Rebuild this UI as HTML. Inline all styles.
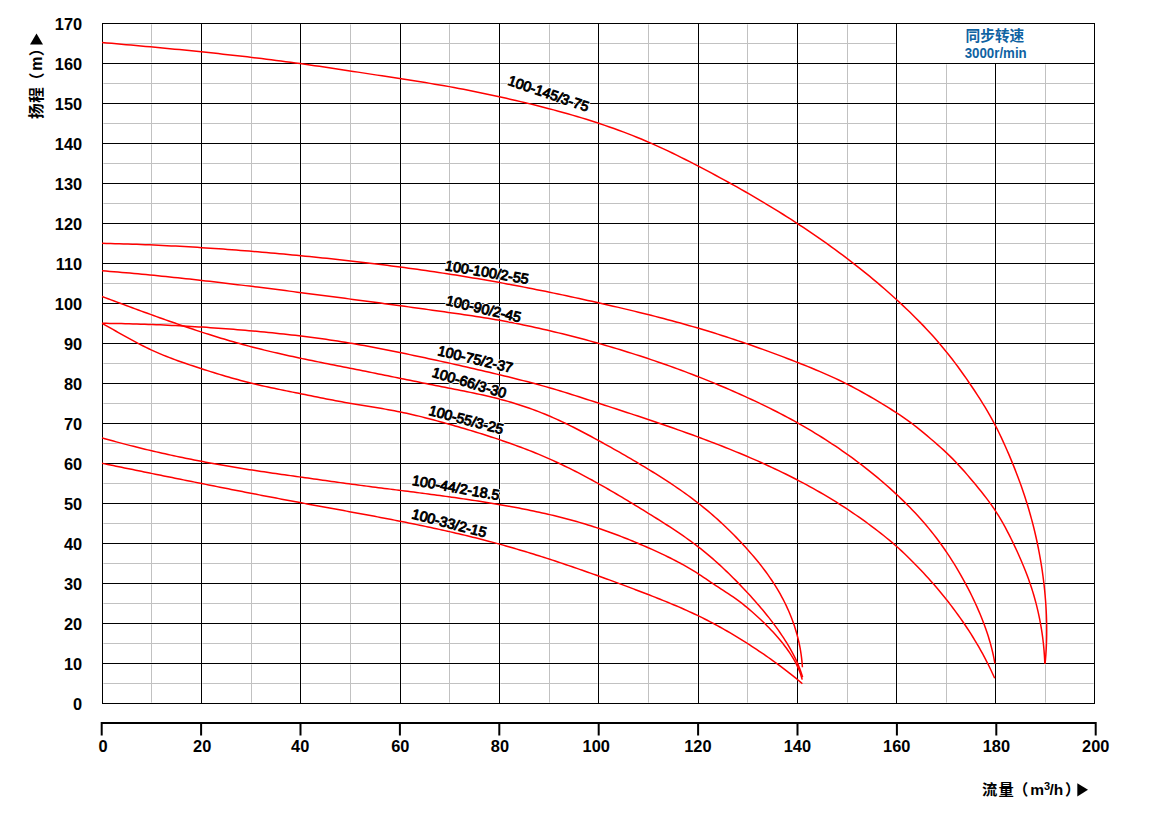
<!DOCTYPE html><html><head><meta charset="utf-8"><title>Pump curves</title>
<style>html,body{margin:0;padding:0;background:#fff;}body{width:1155px;height:816px;overflow:hidden;}svg{display:block;}</style></head><body>
<svg width="1155" height="816" viewBox="0 0 1155 816">
<rect width="1155" height="816" fill="#fff"/>
<g fill="#c1c1c1" shape-rendering="crispEdges">
<rect x="151" y="23" width="1" height="681"/>
<rect x="251" y="23" width="1" height="681"/>
<rect x="350" y="23" width="1" height="681"/>
<rect x="449" y="23" width="1" height="681"/>
<rect x="549" y="23" width="1" height="681"/>
<rect x="648" y="23" width="1" height="681"/>
<rect x="747" y="23" width="1" height="681"/>
<rect x="847" y="23" width="1" height="681"/>
<rect x="946" y="23" width="1" height="681"/>
<rect x="1045" y="23" width="1" height="681"/>
<rect x="102" y="43" width="993" height="1"/>
<rect x="102" y="83" width="993" height="1"/>
<rect x="102" y="123" width="993" height="1"/>
<rect x="102" y="163" width="993" height="1"/>
<rect x="102" y="203" width="993" height="1"/>
<rect x="102" y="243" width="993" height="1"/>
<rect x="102" y="283" width="993" height="1"/>
<rect x="102" y="323" width="993" height="1"/>
<rect x="102" y="363" width="993" height="1"/>
<rect x="102" y="403" width="993" height="1"/>
<rect x="102" y="443" width="993" height="1"/>
<rect x="102" y="483" width="993" height="1"/>
<rect x="102" y="523" width="993" height="1"/>
<rect x="102" y="563" width="993" height="1"/>
<rect x="102" y="603" width="993" height="1"/>
<rect x="102" y="643" width="993" height="1"/>
<rect x="102" y="683" width="993" height="1"/>
</g>
<g fill="#fff" fill-opacity="0.4" shape-rendering="crispEdges">
<rect x="101" y="23" width="3" height="681"/>
<rect x="200" y="23" width="3" height="681"/>
<rect x="299" y="23" width="3" height="681"/>
<rect x="399" y="23" width="3" height="681"/>
<rect x="498" y="23" width="3" height="681"/>
<rect x="597" y="23" width="3" height="681"/>
<rect x="697" y="23" width="3" height="681"/>
<rect x="796" y="23" width="3" height="681"/>
<rect x="895" y="23" width="3" height="681"/>
<rect x="994" y="23" width="3" height="681"/>
<rect x="1093" y="23" width="3" height="681"/>
<rect x="102" y="22" width="993" height="3"/>
<rect x="102" y="62" width="993" height="3"/>
<rect x="102" y="102" width="993" height="3"/>
<rect x="102" y="142" width="993" height="3"/>
<rect x="102" y="182" width="993" height="3"/>
<rect x="102" y="222" width="993" height="3"/>
<rect x="102" y="262" width="993" height="3"/>
<rect x="102" y="302" width="993" height="3"/>
<rect x="102" y="342" width="993" height="3"/>
<rect x="102" y="382" width="993" height="3"/>
<rect x="102" y="422" width="993" height="3"/>
<rect x="102" y="462" width="993" height="3"/>
<rect x="102" y="502" width="993" height="3"/>
<rect x="102" y="542" width="993" height="3"/>
<rect x="102" y="582" width="993" height="3"/>
<rect x="102" y="622" width="993" height="3"/>
<rect x="102" y="662" width="993" height="3"/>
<rect x="102" y="702" width="993" height="3"/>
</g>
<g fill="none" stroke="#fff" stroke-opacity="0.4" stroke-width="2.8">
<path d="M102.00 42.50L106.84 42.92L111.69 43.35L116.53 43.78L121.37 44.21L126.22 44.64L131.06 45.08L135.90 45.51L140.75 45.96L145.59 46.40L150.43 46.85L155.27 47.30L160.11 47.76L164.96 48.22L169.80 48.68L174.64 49.15L179.48 49.62L184.32 50.10L189.16 50.58L194.00 51.07L198.83 51.57L203.67 52.07L208.51 52.57L213.34 53.08L218.18 53.60L223.01 54.13L227.85 54.66L232.68 55.20L237.51 55.75L242.35 56.30L247.18 56.86L252.00 57.43L256.83 58.01L261.66 58.59L266.49 59.19L271.31 59.79L276.14 60.40L280.96 61.02L285.78 61.65L290.60 62.29L295.42 62.94L300.24 63.60L305.05 64.27L309.87 64.95L314.68 65.64L319.49 66.33L324.30 67.04L329.12 67.75L333.92 68.46L338.73 69.19L343.54 69.92L348.35 70.65L353.16 71.39L357.96 72.13L362.77 72.87L367.57 73.62L372.38 74.37L377.19 75.12L381.99 75.86L386.80 76.61L391.60 77.36L396.41 78.11L401.21 78.86L406.02 79.60L410.83 80.34L415.63 81.09L420.44 81.84L425.24 82.60L430.04 83.38L434.84 84.16L439.63 84.97L444.43 85.79L449.21 86.63L454.00 87.50L458.78 88.39L463.55 89.31L468.32 90.24L473.09 91.20L477.86 92.17L482.62 93.17L487.37 94.17L492.13 95.20L496.88 96.24L501.63 97.29L506.38 98.35L511.12 99.43L515.86 100.52L520.60 101.63L525.33 102.75L530.06 103.89L534.78 105.05L539.50 106.23L544.21 107.43L548.92 108.65L553.62 109.89L558.31 111.16L563.00 112.45L567.68 113.77L572.36 115.11L577.02 116.48L581.68 117.88L586.33 119.31L590.97 120.77L595.60 122.26L600.22 123.78L604.83 125.34L609.43 126.93L614.02 128.55L618.60 130.21L623.16 131.90L627.71 133.64L632.25 135.40L636.76 137.21L641.26 139.06L645.75 140.94L650.21 142.87L654.65 144.83L659.08 146.84L663.49 148.87L667.88 150.94L672.26 153.04L676.63 155.17L680.99 157.33L685.33 159.50L689.66 161.70L693.99 163.92L698.31 166.16L702.62 168.41L706.92 170.67L711.22 172.95L715.51 175.24L719.79 177.55L724.07 179.88L728.34 182.22L732.59 184.58L736.84 186.96L741.08 189.35L745.31 191.76L749.53 194.19L753.74 196.63L757.94 199.09L762.13 201.57L766.30 204.07L770.47 206.59L774.62 209.13L778.76 211.68L782.89 214.26L787.00 216.86L791.11 219.47L795.19 222.11L799.27 224.77L803.33 227.45L807.37 230.15L811.40 232.87L815.41 235.61L819.41 238.37L823.39 241.16L827.36 243.97L831.31 246.80L835.24 249.66L839.16 252.54L843.05 255.44L846.93 258.37L850.79 261.32L854.63 264.30L858.46 267.30L862.26 270.32L866.04 273.37L869.81 276.45L873.55 279.55L877.27 282.68L880.97 285.83L884.65 289.02L888.31 292.22L891.95 295.46L895.56 298.72L899.15 302.01L902.72 305.33L906.26 308.68L909.77 312.06L913.25 315.47L916.71 318.91L920.12 322.38L923.51 325.89L926.85 329.43L930.16 333.00L933.42 336.61L936.65 340.26L939.83 343.94L942.96 347.66L946.05 351.42L949.08 355.22L952.07 359.05L955.01 362.92L957.92 366.82L960.78 370.75L963.61 374.71L966.41 378.69L969.17 382.70L971.91 386.72L974.62 390.76L977.29 394.83L979.93 398.92L982.52 403.04L985.06 407.18L987.55 411.36L989.97 415.57L992.34 419.81L994.63 424.09L996.86 428.41L999.01 432.76L1001.11 437.15L1003.16 441.56L1005.16 445.99L1007.13 450.44L1009.05 454.90L1010.93 459.39L1012.78 463.88L1014.59 468.40L1016.36 472.93L1018.09 477.47L1019.77 482.03L1021.41 486.61L1023.01 491.21L1024.55 495.82L1026.05 500.45L1027.50 505.09L1028.90 509.75L1030.25 514.42L1031.54 519.11L1032.79 523.81L1033.98 528.52L1035.11 533.25L1036.20 537.98L1037.23 542.73L1038.21 547.49L1039.14 552.27L1040.01 557.05L1040.83 561.84L1041.61 566.64L1042.33 571.45L1043.00 576.27L1043.61 581.10L1044.18 585.94L1044.68 590.78L1045.14 595.62L1045.53 600.47L1045.88 605.32L1046.16 610.17L1046.38 615.03L1046.55 619.89L1046.65 624.74L1046.69 629.60L1046.67 634.46L1046.58 639.32L1046.42 644.18L1046.20 649.04L1045.90 653.89L1045.54 658.75L1045.10 663.60"/>
<path d="M102.00 243.30L106.33 243.40L110.67 243.51L115.00 243.63L119.34 243.75L123.67 243.89L128.00 244.03L132.33 244.18L136.67 244.34L141.00 244.50L145.33 244.68L149.66 244.86L153.99 245.05L158.32 245.25L162.65 245.45L166.98 245.67L171.31 245.89L175.63 246.12L179.96 246.35L184.29 246.60L188.62 246.85L192.94 247.10L197.27 247.37L201.59 247.64L205.92 247.92L210.24 248.21L214.57 248.50L218.89 248.80L223.21 249.11L227.54 249.42L231.86 249.74L236.18 250.07L240.50 250.40L244.82 250.74L249.14 251.08L253.46 251.44L257.78 251.80L262.10 252.16L266.42 252.53L270.74 252.91L275.06 253.29L279.37 253.68L283.69 254.07L288.01 254.47L292.32 254.88L296.64 255.29L300.95 255.71L305.27 256.13L309.58 256.56L313.89 256.99L318.21 257.43L322.52 257.88L326.83 258.33L331.14 258.79L335.45 259.25L339.76 259.72L344.07 260.20L348.38 260.68L352.69 261.17L356.99 261.67L361.30 262.17L365.60 262.68L369.91 263.20L374.21 263.72L378.51 264.25L382.81 264.79L387.11 265.34L391.41 265.89L395.71 266.45L400.01 267.02L404.30 267.59L408.60 268.17L412.89 268.76L417.19 269.36L421.48 269.97L425.77 270.58L430.06 271.20L434.35 271.83L438.63 272.47L442.92 273.12L447.20 273.78L451.48 274.44L455.76 275.11L460.04 275.80L464.32 276.49L468.60 277.19L472.87 277.89L477.15 278.61L481.42 279.34L485.69 280.08L489.96 280.82L494.23 281.58L498.49 282.34L502.76 283.12L507.02 283.90L511.28 284.69L515.54 285.50L519.80 286.31L524.05 287.13L528.31 287.96L532.56 288.80L536.81 289.64L541.06 290.50L545.31 291.36L549.56 292.23L553.80 293.11L558.05 294.00L562.29 294.89L566.53 295.79L570.77 296.70L575.01 297.61L579.24 298.54L583.48 299.47L587.71 300.40L591.95 301.34L596.18 302.29L600.41 303.25L604.63 304.21L608.86 305.17L613.09 306.15L617.31 307.13L621.53 308.12L625.75 309.12L629.97 310.12L634.18 311.14L638.39 312.17L642.60 313.20L646.81 314.25L651.01 315.31L655.21 316.38L659.41 317.46L663.60 318.56L667.79 319.67L671.97 320.79L676.16 321.92L680.33 323.07L684.51 324.24L688.68 325.42L692.84 326.61L697.00 327.82L701.16 329.05L705.31 330.30L709.45 331.56L713.59 332.84L717.73 334.13L721.86 335.44L725.98 336.77L730.10 338.11L734.22 339.47L738.33 340.84L742.44 342.23L746.54 343.63L750.63 345.05L754.73 346.49L758.81 347.93L762.89 349.40L766.97 350.87L771.04 352.36L775.11 353.87L779.17 355.39L783.23 356.92L787.29 358.47L791.33 360.02L795.38 361.60L799.42 363.18L803.45 364.78L807.47 366.40L811.49 368.03L815.50 369.69L819.50 371.37L823.48 373.08L827.45 374.82L831.40 376.59L835.34 378.40L839.26 380.25L843.16 382.14L847.04 384.07L850.89 386.04L854.73 388.06L858.54 390.12L862.33 392.22L866.11 394.35L869.87 396.51L873.61 398.70L877.34 400.92L881.06 403.15L884.76 405.41L888.45 407.69L892.12 410.00L895.77 412.34L899.39 414.72L902.97 417.15L906.52 419.63L910.04 422.16L913.51 424.76L916.94 427.41L920.33 430.11L923.69 432.86L927.01 435.64L930.32 438.45L933.61 441.29L936.88 444.14L940.13 447.00L943.36 449.90L946.53 452.84L949.65 455.84L952.71 458.90L955.72 462.01L958.68 465.17L961.60 468.37L964.49 471.61L967.34 474.88L970.16 478.17L972.95 481.49L975.73 484.83L978.49 488.18L981.22 491.56L983.91 494.96L986.56 498.39L989.16 501.86L991.69 505.37L994.15 508.93L996.53 512.54L998.83 516.20L1001.05 519.91L1003.20 523.67L1005.29 527.47L1007.32 531.30L1009.30 535.16L1011.23 539.04L1013.13 542.94L1014.99 546.86L1016.82 550.80L1018.62 554.74L1020.37 558.71L1022.09 562.69L1023.75 566.69L1025.37 570.71L1026.93 574.76L1028.43 578.82L1029.87 582.90L1031.25 587.01L1032.57 591.14L1033.82 595.29L1035.00 599.46L1036.12 603.65L1037.17 607.85L1038.16 612.07L1039.08 616.31L1039.94 620.56L1040.73 624.83L1041.45 629.10L1042.11 633.39L1042.69 637.69L1043.21 641.99L1043.67 646.30L1044.05 650.62L1044.37 654.94L1044.62 659.27L1044.80 663.60"/>
<path d="M102.00 270.80L106.00 271.11L109.99 271.43L113.99 271.75L117.98 272.08L121.98 272.42L125.97 272.77L129.97 273.12L133.96 273.48L137.95 273.85L141.94 274.22L145.93 274.59L149.92 274.98L153.91 275.37L157.90 275.76L161.89 276.16L165.88 276.57L169.87 276.98L173.86 277.39L177.84 277.82L181.83 278.24L185.82 278.67L189.80 279.11L193.79 279.55L197.77 279.99L201.75 280.44L205.74 280.89L209.72 281.35L213.70 281.81L217.69 282.27L221.67 282.74L225.65 283.21L229.63 283.69L233.61 284.17L237.59 284.65L241.57 285.13L245.55 285.62L249.53 286.11L253.51 286.60L257.49 287.09L261.47 287.59L265.45 288.09L269.43 288.59L273.41 289.09L277.38 289.59L281.36 290.10L285.34 290.61L289.32 291.12L293.29 291.63L297.27 292.14L301.24 292.65L305.22 293.16L309.20 293.68L313.17 294.19L317.15 294.71L321.12 295.22L325.10 295.74L329.07 296.26L333.05 296.78L337.02 297.30L341.00 297.82L344.97 298.34L348.94 298.87L352.92 299.39L356.89 299.92L360.87 300.45L364.84 300.98L368.81 301.51L372.79 302.04L376.76 302.57L380.73 303.10L384.70 303.64L388.68 304.18L392.65 304.72L396.62 305.25L400.59 305.80L404.57 306.34L408.54 306.88L412.51 307.43L416.48 307.98L420.46 308.52L424.43 309.07L428.40 309.63L432.37 310.18L436.34 310.74L440.31 311.29L444.29 311.85L448.26 312.41L452.23 312.97L456.20 313.54L460.17 314.11L464.14 314.68L468.11 315.27L472.08 315.86L476.04 316.46L480.00 317.07L483.96 317.70L487.92 318.34L491.88 318.99L495.83 319.66L499.78 320.36L503.72 321.07L507.66 321.80L511.59 322.55L515.53 323.32L519.45 324.10L523.38 324.91L527.30 325.73L531.22 326.57L535.13 327.42L539.04 328.29L542.95 329.18L546.86 330.07L550.76 330.99L554.66 331.92L558.56 332.86L562.45 333.81L566.35 334.78L570.23 335.77L574.12 336.76L578.00 337.77L581.88 338.80L585.75 339.84L589.63 340.89L593.49 341.95L597.36 343.03L601.22 344.13L605.07 345.23L608.93 346.35L612.77 347.49L616.62 348.64L620.46 349.80L624.29 350.98L628.12 352.17L631.95 353.37L635.77 354.59L639.59 355.82L643.40 357.06L647.21 358.32L651.01 359.59L654.81 360.87L658.60 362.17L662.39 363.49L666.17 364.81L669.94 366.16L673.71 367.51L677.48 368.88L681.24 370.27L684.99 371.66L688.74 373.08L692.49 374.51L696.22 375.95L699.95 377.41L703.68 378.88L707.40 380.37L711.11 381.88L714.82 383.40L718.52 384.94L722.22 386.49L725.91 388.06L729.59 389.64L733.26 391.24L736.93 392.86L740.60 394.49L744.25 396.14L747.91 397.81L751.55 399.49L755.19 401.19L758.81 402.91L762.43 404.64L766.05 406.40L769.65 408.17L773.24 409.97L776.82 411.79L780.39 413.62L783.95 415.48L787.49 417.36L791.03 419.27L794.54 421.19L798.05 423.14L801.54 425.12L805.02 427.12L808.48 429.15L811.92 431.19L815.35 433.27L818.77 435.37L822.17 437.49L825.55 439.64L828.91 441.81L832.26 444.01L835.60 446.24L838.91 448.48L842.21 450.76L845.49 453.06L848.75 455.38L852.00 457.73L855.23 460.11L858.43 462.51L861.62 464.93L864.79 467.38L867.95 469.86L871.08 472.36L874.19 474.89L877.28 477.45L880.36 480.03L883.41 482.64L886.44 485.27L889.45 487.93L892.44 490.61L895.40 493.33L898.33 496.07L901.24 498.84L904.12 501.63L906.97 504.46L909.79 507.31L912.57 510.19L915.33 513.10L918.05 516.05L920.74 519.02L923.39 522.02L926.00 525.06L928.58 528.12L931.11 531.22L933.61 534.35L936.06 537.52L938.47 540.72L940.84 543.95L943.16 547.21L945.44 550.51L947.69 553.83L949.89 557.18L952.06 560.56L954.19 563.95L956.29 567.38L958.34 570.82L960.36 574.29L962.33 577.78L964.27 581.29L966.17 584.82L968.04 588.37L969.86 591.95L971.64 595.54L973.38 599.15L975.09 602.78L976.75 606.43L978.37 610.10L979.95 613.79L981.47 617.50L982.95 621.22L984.37 624.97L985.73 628.74L987.03 632.52L988.27 636.33L989.44 640.16L990.54 644.01L991.57 647.88L992.53 651.78L993.40 655.70L994.19 659.64L994.90 663.60"/>
<path d="M102.00 323.30L105.87 323.35L109.75 323.41L113.62 323.47L117.50 323.54L121.37 323.62L125.24 323.71L129.12 323.81L132.99 323.91L136.86 324.02L140.74 324.14L144.61 324.27L148.48 324.41L152.35 324.55L156.22 324.70L160.09 324.86L163.97 325.03L167.84 325.20L171.71 325.38L175.58 325.57L179.45 325.77L183.31 325.98L187.18 326.19L191.05 326.41L194.92 326.64L198.79 326.88L202.65 327.12L206.52 327.37L210.38 327.63L214.25 327.90L218.12 328.17L221.98 328.46L225.84 328.75L229.71 329.05L233.57 329.35L237.43 329.66L241.29 329.99L245.15 330.31L249.01 330.65L252.87 330.99L256.73 331.35L260.59 331.71L264.45 332.07L268.31 332.45L272.16 332.84L276.02 333.23L279.87 333.64L283.72 334.05L287.58 334.48L291.43 334.91L295.27 335.36L299.12 335.81L302.97 336.28L306.81 336.76L310.65 337.26L314.50 337.76L318.33 338.28L322.17 338.81L326.01 339.36L329.84 339.92L333.67 340.49L337.50 341.07L341.33 341.68L345.15 342.29L348.97 342.92L352.79 343.57L356.61 344.23L360.43 344.91L364.24 345.60L368.05 346.30L371.86 347.02L375.67 347.74L379.47 348.48L383.28 349.22L387.08 349.98L390.88 350.74L394.68 351.51L398.47 352.28L402.27 353.06L406.07 353.84L409.86 354.63L413.65 355.43L417.44 356.23L421.23 357.03L425.02 357.84L428.81 358.65L432.60 359.47L436.38 360.29L440.17 361.11L443.95 361.95L447.73 362.78L451.51 363.63L455.29 364.47L459.07 365.32L462.85 366.18L466.63 367.04L470.40 367.91L474.18 368.78L477.95 369.66L481.72 370.54L485.49 371.42L489.27 372.32L493.04 373.21L496.80 374.11L500.57 375.02L504.34 375.93L508.10 376.85L511.87 377.78L515.63 378.71L519.39 379.66L523.14 380.62L526.90 381.58L530.65 382.57L534.39 383.56L538.13 384.57L541.87 385.60L545.60 386.65L549.32 387.71L553.04 388.79L556.75 389.89L560.46 391.01L564.16 392.14L567.86 393.29L571.56 394.45L575.25 395.62L578.94 396.80L582.63 397.98L586.31 399.18L590.00 400.37L593.68 401.57L597.36 402.78L601.05 403.98L604.73 405.18L608.41 406.39L612.10 407.59L615.78 408.79L619.46 410.00L623.15 411.21L626.83 412.42L630.51 413.64L634.19 414.85L637.87 416.07L641.54 417.30L645.22 418.53L648.89 419.76L652.57 421.00L656.24 422.25L659.90 423.50L663.57 424.75L667.23 426.02L670.89 427.29L674.55 428.57L678.21 429.85L681.86 431.15L685.51 432.45L689.15 433.76L692.79 435.08L696.43 436.41L700.06 437.76L703.69 439.11L707.32 440.47L710.94 441.85L714.56 443.23L718.17 444.63L721.78 446.04L725.38 447.46L728.98 448.90L732.57 450.35L736.15 451.82L739.73 453.30L743.31 454.79L746.88 456.30L750.44 457.83L754.00 459.37L757.55 460.93L761.09 462.50L764.62 464.09L768.15 465.70L771.67 467.33L775.18 468.98L778.68 470.64L782.17 472.33L785.66 474.03L789.13 475.75L792.59 477.50L796.04 479.26L799.48 481.05L802.91 482.85L806.32 484.68L809.73 486.54L813.12 488.41L816.50 490.31L819.86 492.23L823.21 494.17L826.55 496.14L829.87 498.14L833.17 500.16L836.47 502.20L839.74 504.27L843.00 506.37L846.25 508.49L849.47 510.64L852.69 512.81L855.88 515.00L859.06 517.22L862.23 519.46L865.38 521.72L868.52 524.00L871.64 526.31L874.74 528.64L877.82 530.99L880.88 533.37L883.91 535.78L886.92 538.22L889.90 540.69L892.85 543.19L895.77 545.73L898.66 548.31L901.51 550.92L904.33 553.56L907.13 556.24L909.89 558.94L912.64 561.68L915.36 564.43L918.05 567.21L920.73 570.02L923.38 572.84L926.02 575.69L928.62 578.56L931.21 581.45L933.77 584.36L936.31 587.30L938.82 590.26L941.30 593.24L943.76 596.24L946.19 599.26L948.59 602.31L950.96 605.38L953.31 608.47L955.62 611.58L957.91 614.71L960.16 617.87L962.38 621.04L964.57 624.24L966.73 627.46L968.85 630.70L970.94 633.96L972.99 637.25L975.01 640.55L976.99 643.88L978.94 647.22L980.85 650.59L982.72 653.98L984.55 657.39L986.34 660.83L988.10 664.28L989.81 667.75L991.48 671.25L993.11 674.76L994.70 678.30"/>
<path d="M102.00 296.50L105.02 297.62L108.04 298.75L111.07 299.87L114.09 301.00L117.12 302.12L120.14 303.25L123.17 304.37L126.20 305.49L129.23 306.62L132.26 307.74L135.29 308.85L138.33 309.97L141.36 311.08L144.40 312.19L147.43 313.30L150.47 314.41L153.51 315.51L156.56 316.60L159.60 317.69L162.65 318.78L165.69 319.86L168.74 320.94L171.80 322.01L174.85 323.08L177.90 324.14L180.96 325.19L184.02 326.24L187.08 327.28L190.15 328.31L193.22 329.33L196.28 330.35L199.36 331.36L202.43 332.36L205.51 333.35L208.59 334.33L211.67 335.30L214.75 336.27L217.84 337.22L220.93 338.16L224.03 339.09L227.12 340.01L230.22 340.92L233.32 341.82L236.43 342.71L239.54 343.58L242.65 344.44L245.77 345.29L248.89 346.13L252.01 346.95L255.14 347.76L258.26 348.56L261.40 349.34L264.53 350.11L267.67 350.87L270.81 351.62L273.96 352.36L277.10 353.09L280.25 353.81L283.40 354.52L286.56 355.22L289.71 355.91L292.87 356.60L296.03 357.28L299.19 357.95L302.35 358.61L305.52 359.27L308.68 359.93L311.85 360.58L315.02 361.22L318.18 361.87L321.35 362.50L324.52 363.14L327.69 363.77L330.86 364.40L334.03 365.03L337.20 365.66L340.37 366.29L343.54 366.92L346.71 367.55L349.88 368.18L353.05 368.81L356.22 369.45L359.39 370.08L362.55 370.72L365.72 371.35L368.89 371.99L372.05 372.63L375.22 373.27L378.38 373.91L381.55 374.55L384.71 375.19L387.88 375.84L391.04 376.48L394.21 377.12L397.37 377.76L400.54 378.41L403.71 379.05L406.87 379.69L410.04 380.33L413.20 380.97L416.37 381.61L419.54 382.25L422.70 382.89L425.87 383.53L429.04 384.16L432.21 384.80L435.38 385.43L438.55 386.07L441.72 386.70L444.89 387.33L448.06 387.95L451.24 388.58L454.41 389.20L457.59 389.83L460.76 390.46L463.93 391.09L467.10 391.73L470.27 392.38L473.44 393.03L476.61 393.70L479.77 394.38L482.92 395.08L486.08 395.79L489.23 396.52L492.37 397.28L495.51 398.05L498.64 398.85L501.76 399.67L504.88 400.52L507.99 401.40L511.09 402.30L514.18 403.23L517.27 404.19L520.34 405.18L523.41 406.19L526.47 407.23L529.51 408.29L532.55 409.39L535.58 410.51L538.60 411.66L541.60 412.83L544.60 414.04L547.58 415.27L550.56 416.54L553.52 417.83L556.46 419.14L559.40 420.48L562.33 421.85L565.25 423.24L568.16 424.65L571.06 426.07L573.95 427.52L576.83 428.99L579.71 430.47L582.58 431.96L585.44 433.47L588.30 434.99L591.15 436.52L594.00 438.06L596.84 439.61L599.68 441.16L602.52 442.72L605.35 444.29L608.18 445.86L611.00 447.44L613.82 449.03L616.63 450.62L619.45 452.22L622.25 453.82L625.05 455.44L627.85 457.06L630.65 458.69L633.43 460.32L636.22 461.97L639.00 463.62L641.77 465.28L644.54 466.95L647.30 468.62L650.06 470.31L652.81 472.01L655.56 473.71L658.30 475.43L661.03 477.16L663.75 478.90L666.46 480.65L669.17 482.42L671.86 484.20L674.54 486.00L677.21 487.82L679.87 489.65L682.51 491.50L685.15 493.37L687.76 495.26L690.37 497.16L692.95 499.10L695.52 501.05L698.08 503.02L700.61 505.02L703.13 507.04L705.63 509.09L708.11 511.15L710.58 513.24L713.02 515.36L715.45 517.49L717.86 519.65L720.25 521.82L722.63 524.02L724.98 526.24L727.32 528.48L729.64 530.74L731.94 533.02L734.22 535.31L736.48 537.63L738.73 539.97L740.95 542.32L743.16 544.70L745.35 547.09L747.52 549.50L749.67 551.92L751.80 554.37L753.90 556.83L755.98 559.32L758.04 561.82L760.07 564.34L762.07 566.89L764.04 569.46L765.97 572.05L767.87 574.67L769.73 577.31L771.56 579.98L773.34 582.67L775.08 585.40L776.78 588.14L778.43 590.92L780.04 593.72L781.60 596.55L783.12 599.40L784.58 602.27L786.00 605.17L787.36 608.09L788.68 611.04L789.94 614.01L791.15 617.00L792.30 620.01L793.40 623.04L794.44 626.09L795.42 629.16L796.35 632.25L797.22 635.35L798.02 638.48L798.77 641.62L799.45 644.78L800.07 647.95L800.62 651.14L801.11 654.34L801.54 657.56L801.89 660.80L802.18 664.04L802.40 667.30"/>
<path d="M102.00 323.30L104.74 324.82L107.47 326.35L110.20 327.89L112.93 329.44L115.66 330.98L118.40 332.53L121.13 334.07L123.86 335.61L126.60 337.14L129.35 338.66L132.10 340.16L134.86 341.65L137.63 343.12L140.41 344.57L143.20 345.99L146.00 347.39L148.82 348.75L151.65 350.08L154.50 351.38L157.36 352.65L160.24 353.88L163.13 355.09L166.03 356.26L168.95 357.41L171.88 358.53L174.81 359.63L177.76 360.71L180.71 361.77L183.67 362.81L186.64 363.83L189.62 364.84L192.60 365.83L195.58 366.82L198.57 367.79L201.56 368.75L204.55 369.71L207.54 370.66L210.54 371.60L213.53 372.54L216.53 373.46L219.54 374.37L222.54 375.27L225.55 376.16L228.56 377.04L231.58 377.91L234.59 378.76L237.62 379.59L240.64 380.41L243.67 381.22L246.70 382.00L249.74 382.77L252.78 383.52L255.83 384.26L258.88 384.97L261.93 385.68L264.99 386.36L268.05 387.04L271.12 387.70L274.18 388.35L277.25 389.00L280.32 389.63L283.39 390.26L286.46 390.89L289.54 391.51L292.61 392.13L295.69 392.74L298.76 393.36L301.83 393.98L304.91 394.60L307.98 395.22L311.05 395.84L314.13 396.46L317.20 397.07L320.28 397.69L323.35 398.30L326.43 398.91L329.51 399.51L332.58 400.10L335.67 400.69L338.75 401.27L341.83 401.84L344.92 402.40L348.01 402.95L351.10 403.49L354.19 404.02L357.29 404.54L360.38 405.05L363.48 405.55L366.58 406.06L369.68 406.56L372.78 407.06L375.87 407.57L378.97 408.08L382.06 408.60L385.15 409.13L388.24 409.67L391.32 410.23L394.40 410.80L397.48 411.40L400.55 412.01L403.61 412.65L406.67 413.30L409.73 413.98L412.78 414.68L415.82 415.40L418.86 416.14L421.90 416.89L424.93 417.66L427.96 418.44L430.99 419.23L434.02 420.04L437.04 420.86L440.06 421.69L443.08 422.53L446.10 423.37L449.12 424.22L452.14 425.08L455.16 425.95L458.17 426.82L461.19 427.70L464.20 428.58L467.22 429.48L470.23 430.38L473.24 431.29L476.24 432.20L479.24 433.13L482.25 434.07L485.24 435.01L488.24 435.97L491.23 436.94L494.21 437.91L497.20 438.90L500.17 439.91L503.15 440.92L506.11 441.95L509.08 442.99L512.04 444.04L514.99 445.10L517.93 446.18L520.87 447.28L523.81 448.39L526.73 449.52L529.65 450.66L532.57 451.81L535.47 452.99L538.37 454.18L541.26 455.39L544.14 456.61L547.01 457.85L549.88 459.12L552.73 460.40L555.58 461.70L558.42 463.01L561.25 464.35L564.07 465.70L566.89 467.06L569.69 468.45L572.49 469.85L575.29 471.26L578.07 472.69L580.85 474.13L583.62 475.59L586.39 477.06L589.15 478.54L591.90 480.03L594.65 481.54L597.39 483.06L600.13 484.59L602.86 486.13L605.59 487.68L608.31 489.24L611.02 490.81L613.74 492.39L616.45 493.98L619.15 495.57L621.85 497.17L624.55 498.78L627.24 500.40L629.93 502.02L632.62 503.65L635.31 505.29L637.99 506.92L640.67 508.57L643.35 510.22L646.03 511.87L648.70 513.52L651.37 515.18L654.05 516.84L656.71 518.51L659.38 520.18L662.03 521.86L664.68 523.55L667.33 525.25L669.96 526.95L672.59 528.67L675.21 530.41L677.81 532.16L680.41 533.92L682.99 535.70L685.55 537.49L688.11 539.31L690.64 541.15L693.16 543.00L695.67 544.88L698.15 546.78L700.61 548.71L703.06 550.66L705.48 552.63L707.89 554.62L710.28 556.64L712.65 558.68L715.00 560.74L717.34 562.82L719.66 564.92L721.96 567.04L724.25 569.18L726.52 571.34L728.78 573.51L731.02 575.70L733.24 577.91L735.46 580.14L737.65 582.38L739.84 584.63L742.01 586.90L744.17 589.19L746.31 591.48L748.44 593.79L750.56 596.11L752.67 598.45L754.76 600.79L756.84 603.15L758.90 605.53L760.95 607.92L762.97 610.32L764.97 612.74L766.95 615.18L768.91 617.63L770.84 620.10L772.75 622.59L774.63 625.10L776.48 627.63L778.31 630.17L780.10 632.74L781.86 635.33L783.59 637.94L785.28 640.57L786.93 643.22L788.55 645.90L790.13 648.60L791.66 651.33L793.14 654.08L794.57 656.86L795.93 659.68L797.23 662.53L798.47 665.41L799.62 668.32L800.70 671.28L801.69 674.27L802.60 677.30"/>
<path d="M102.00 437.90L104.85 438.71L107.70 439.51L110.55 440.30L113.40 441.08L116.26 441.86L119.11 442.63L121.97 443.39L124.84 444.14L127.70 444.88L130.57 445.62L133.44 446.34L136.31 447.06L139.18 447.78L142.05 448.48L144.93 449.18L147.81 449.87L150.69 450.55L153.57 451.22L156.45 451.89L159.34 452.55L162.22 453.20L165.11 453.85L168.00 454.49L170.89 455.12L173.79 455.74L176.68 456.36L179.58 456.97L182.48 457.57L185.38 458.17L188.28 458.76L191.18 459.34L194.08 459.91L196.99 460.48L199.89 461.05L202.80 461.60L205.71 462.15L208.62 462.69L211.53 463.23L214.44 463.76L217.36 464.29L220.27 464.80L223.18 465.31L226.10 465.82L229.02 466.32L231.94 466.81L234.86 467.30L237.77 467.78L240.70 468.26L243.62 468.73L246.54 469.19L249.46 469.65L252.39 470.10L255.31 470.55L258.24 470.99L261.16 471.43L264.09 471.86L267.01 472.29L269.94 472.72L272.87 473.14L275.80 473.56L278.73 473.98L281.65 474.40L284.58 474.81L287.51 475.22L290.44 475.63L293.37 476.05L296.30 476.46L299.23 476.87L302.17 477.28L305.10 477.69L308.03 478.11L310.96 478.52L313.89 478.93L316.82 479.35L319.75 479.76L322.69 480.17L325.62 480.58L328.55 480.99L331.48 481.40L334.42 481.81L337.35 482.21L340.28 482.62L343.22 483.02L346.15 483.42L349.08 483.81L352.02 484.21L354.95 484.60L357.89 484.98L360.82 485.37L363.75 485.75L366.69 486.13L369.62 486.51L372.56 486.89L375.49 487.27L378.43 487.64L381.36 488.01L384.30 488.39L387.23 488.76L390.17 489.13L393.10 489.50L396.04 489.87L398.97 490.25L401.90 490.62L404.84 490.99L407.77 491.36L410.71 491.74L413.64 492.11L416.57 492.49L419.51 492.87L422.44 493.25L425.37 493.63L428.30 494.01L431.24 494.40L434.17 494.79L437.10 495.18L440.03 495.58L442.96 495.98L445.89 496.38L448.82 496.78L451.75 497.19L454.68 497.60L457.61 498.02L460.54 498.44L463.46 498.87L466.39 499.30L469.32 499.74L472.24 500.18L475.17 500.62L478.09 501.08L481.02 501.53L483.94 502.00L486.86 502.47L489.79 502.94L492.71 503.43L495.63 503.92L498.55 504.41L501.47 504.92L504.39 505.43L507.30 505.95L510.22 506.48L513.14 507.01L516.05 507.56L518.96 508.11L521.87 508.68L524.78 509.25L527.68 509.83L530.59 510.43L533.49 511.03L536.39 511.65L539.28 512.27L542.18 512.91L545.07 513.56L547.96 514.22L550.84 514.89L553.72 515.58L556.60 516.28L559.47 516.99L562.34 517.72L565.20 518.46L568.06 519.21L570.92 519.98L573.77 520.77L576.62 521.57L579.46 522.38L582.30 523.21L585.13 524.06L587.96 524.92L590.78 525.80L593.60 526.70L596.41 527.61L599.21 528.55L602.01 529.49L604.80 530.46L607.59 531.45L610.37 532.45L613.15 533.46L615.92 534.50L618.68 535.54L621.44 536.61L624.20 537.68L626.95 538.78L629.69 539.88L632.43 541.00L635.17 542.14L637.90 543.28L640.63 544.44L643.35 545.61L646.07 546.79L648.79 547.98L651.50 549.19L654.21 550.41L656.91 551.64L659.61 552.88L662.29 554.14L664.97 555.42L667.64 556.71L670.30 558.02L672.95 559.36L675.59 560.71L678.21 562.09L680.82 563.49L683.42 564.91L686.00 566.36L688.56 567.84L691.11 569.34L693.64 570.87L696.14 572.44L698.63 574.03L701.10 575.66L703.56 577.30L706.00 578.96L708.45 580.63L710.90 582.29L713.36 583.94L715.84 585.57L718.32 587.18L720.81 588.80L723.29 590.41L725.78 592.03L728.25 593.66L730.72 595.30L733.16 596.97L735.58 598.66L737.98 600.39L740.35 602.15L742.68 603.96L744.97 605.81L747.25 607.69L749.50 609.60L751.74 611.53L753.97 613.48L756.18 615.46L758.37 617.45L760.54 619.47L762.69 621.51L764.82 623.58L766.92 625.67L769.00 627.78L771.05 629.92L773.08 632.09L775.07 634.28L777.03 636.51L778.97 638.75L780.86 641.03L782.72 643.34L784.55 645.67L786.33 648.04L788.06 650.44L789.74 652.88L791.35 655.35L792.90 657.86L794.38 660.41L795.78 663.01L797.10 665.65L798.32 668.34L799.45 671.08L800.48 673.86L801.40 676.70L802.20 679.60"/>
<path d="M102.00 463.30L104.81 463.87L107.62 464.45L110.42 465.02L113.23 465.60L116.04 466.17L118.85 466.74L121.65 467.32L124.46 467.89L127.27 468.47L130.07 469.04L132.88 469.61L135.69 470.18L138.49 470.76L141.30 471.33L144.11 471.90L146.91 472.47L149.72 473.05L152.53 473.62L155.33 474.19L158.14 474.76L160.94 475.33L163.75 475.90L166.56 476.47L169.36 477.04L172.17 477.61L174.98 478.17L177.78 478.74L180.59 479.31L183.40 479.87L186.20 480.44L189.01 481.00L191.82 481.57L194.62 482.13L197.43 482.70L200.24 483.26L203.04 483.82L205.85 484.38L208.66 484.94L211.47 485.50L214.27 486.06L217.08 486.62L219.89 487.17L222.70 487.73L225.51 488.28L228.31 488.84L231.12 489.39L233.93 489.94L236.74 490.49L239.55 491.04L242.36 491.59L245.17 492.14L247.98 492.69L250.79 493.24L253.60 493.78L256.41 494.32L259.22 494.87L262.04 495.41L264.85 495.95L267.66 496.49L270.47 497.03L273.28 497.56L276.10 498.10L278.91 498.63L281.73 499.16L284.54 499.70L287.35 500.23L290.17 500.76L292.98 501.28L295.80 501.81L298.62 502.33L301.43 502.86L304.25 503.38L307.07 503.90L309.88 504.42L312.70 504.93L315.52 505.45L318.34 505.97L321.16 506.48L323.98 507.00L326.79 507.51L329.61 508.03L332.43 508.54L335.25 509.06L338.07 509.57L340.89 510.09L343.71 510.60L346.53 511.12L349.35 511.64L352.16 512.15L354.98 512.67L357.80 513.19L360.62 513.71L363.44 514.24L366.25 514.76L369.07 515.29L371.89 515.81L374.70 516.34L377.52 516.88L380.33 517.41L383.15 517.95L385.96 518.49L388.77 519.03L391.59 519.57L394.40 520.12L397.21 520.67L400.02 521.22L402.83 521.78L405.64 522.34L408.45 522.90L411.25 523.47L414.06 524.04L416.86 524.61L419.67 525.19L422.47 525.78L425.27 526.37L428.08 526.96L430.88 527.55L433.67 528.16L436.47 528.76L439.27 529.38L442.06 529.99L444.86 530.61L447.65 531.24L450.44 531.88L453.23 532.51L456.02 533.16L458.81 533.81L461.59 534.47L464.37 535.13L467.16 535.80L469.94 536.48L472.72 537.16L475.49 537.85L478.27 538.55L481.04 539.25L483.82 539.96L486.59 540.68L489.36 541.41L492.12 542.14L494.89 542.88L497.65 543.63L500.41 544.39L503.17 545.15L505.93 545.93L508.68 546.71L511.44 547.50L514.19 548.29L516.94 549.10L519.68 549.91L522.43 550.73L525.17 551.55L527.91 552.38L530.65 553.22L533.39 554.07L536.13 554.92L538.86 555.78L541.59 556.65L544.33 557.52L547.05 558.39L549.78 559.28L552.51 560.16L555.23 561.06L557.95 561.96L560.67 562.86L563.39 563.77L566.11 564.69L568.82 565.61L571.53 566.54L574.25 567.47L576.95 568.40L579.66 569.34L582.37 570.28L585.07 571.23L587.78 572.18L590.48 573.14L593.18 574.09L595.88 575.06L598.57 576.02L601.27 576.99L603.96 577.97L606.65 578.94L609.34 579.92L612.03 580.91L614.72 581.89L617.41 582.89L620.09 583.88L622.77 584.88L625.46 585.88L628.14 586.89L630.81 587.90L633.49 588.91L636.17 589.93L638.84 590.95L641.52 591.97L644.19 593.00L646.86 594.03L649.53 595.07L652.20 596.11L654.86 597.16L657.53 598.21L660.19 599.27L662.85 600.34L665.50 601.41L668.16 602.49L670.80 603.59L673.45 604.69L676.09 605.80L678.72 606.93L681.35 608.06L683.97 609.22L686.58 610.38L689.19 611.56L691.79 612.75L694.39 613.96L696.97 615.19L699.55 616.44L702.12 617.70L704.68 618.98L707.24 620.27L709.78 621.59L712.32 622.92L714.84 624.27L717.36 625.63L719.87 627.01L722.38 628.40L724.87 629.81L727.36 631.24L729.84 632.68L732.31 634.13L734.77 635.60L737.22 637.08L739.67 638.58L742.11 640.09L744.54 641.61L746.96 643.15L749.37 644.70L751.78 646.26L754.18 647.83L756.57 649.41L758.95 651.01L761.33 652.62L763.69 654.23L766.05 655.86L768.40 657.50L770.74 659.16L773.07 660.82L775.40 662.50L777.71 664.19L780.01 665.89L782.30 667.61L784.58 669.34L786.85 671.09L789.11 672.84L791.36 674.62L793.59 676.40L795.81 678.20L798.02 680.02L800.22 681.85L802.40 683.70"/>
</g>
<g fill="#000" shape-rendering="crispEdges">
<rect x="102" y="23" width="1" height="681"/>
<rect x="201" y="23" width="1" height="681"/>
<rect x="300" y="23" width="1" height="681"/>
<rect x="400" y="23" width="1" height="681"/>
<rect x="499" y="23" width="1" height="681"/>
<rect x="598" y="23" width="1" height="681"/>
<rect x="698" y="23" width="1" height="681"/>
<rect x="797" y="23" width="1" height="681"/>
<rect x="896" y="23" width="1" height="681"/>
<rect x="995" y="23" width="1" height="681"/>
<rect x="1094" y="23" width="1" height="681"/>
<rect x="102" y="23" width="993" height="1"/>
<rect x="102" y="63" width="993" height="1"/>
<rect x="102" y="103" width="993" height="1"/>
<rect x="102" y="143" width="993" height="1"/>
<rect x="102" y="183" width="993" height="1"/>
<rect x="102" y="223" width="993" height="1"/>
<rect x="102" y="263" width="993" height="1"/>
<rect x="102" y="303" width="993" height="1"/>
<rect x="102" y="343" width="993" height="1"/>
<rect x="102" y="383" width="993" height="1"/>
<rect x="102" y="423" width="993" height="1"/>
<rect x="102" y="463" width="993" height="1"/>
<rect x="102" y="503" width="993" height="1"/>
<rect x="102" y="543" width="993" height="1"/>
<rect x="102" y="583" width="993" height="1"/>
<rect x="102" y="623" width="993" height="1"/>
<rect x="102" y="663" width="993" height="1"/>
<rect x="102" y="703" width="993" height="1"/>
</g>
<rect x="897" y="24" width="197" height="39" fill="#fff"/>
<g fill="none" stroke="#ff0000" stroke-width="1.5" stroke-linecap="butt" stroke-linejoin="round">
<path d="M102.00 42.50L106.84 42.92L111.69 43.35L116.53 43.78L121.37 44.21L126.22 44.64L131.06 45.08L135.90 45.51L140.75 45.96L145.59 46.40L150.43 46.85L155.27 47.30L160.11 47.76L164.96 48.22L169.80 48.68L174.64 49.15L179.48 49.62L184.32 50.10L189.16 50.58L194.00 51.07L198.83 51.57L203.67 52.07L208.51 52.57L213.34 53.08L218.18 53.60L223.01 54.13L227.85 54.66L232.68 55.20L237.51 55.75L242.35 56.30L247.18 56.86L252.00 57.43L256.83 58.01L261.66 58.59L266.49 59.19L271.31 59.79L276.14 60.40L280.96 61.02L285.78 61.65L290.60 62.29L295.42 62.94L300.24 63.60L305.05 64.27L309.87 64.95L314.68 65.64L319.49 66.33L324.30 67.04L329.12 67.75L333.92 68.46L338.73 69.19L343.54 69.92L348.35 70.65L353.16 71.39L357.96 72.13L362.77 72.87L367.57 73.62L372.38 74.37L377.19 75.12L381.99 75.86L386.80 76.61L391.60 77.36L396.41 78.11L401.21 78.86L406.02 79.60L410.83 80.34L415.63 81.09L420.44 81.84L425.24 82.60L430.04 83.38L434.84 84.16L439.63 84.97L444.43 85.79L449.21 86.63L454.00 87.50L458.78 88.39L463.55 89.31L468.32 90.24L473.09 91.20L477.86 92.17L482.62 93.17L487.37 94.17L492.13 95.20L496.88 96.24L501.63 97.29L506.38 98.35L511.12 99.43L515.86 100.52L520.60 101.63L525.33 102.75L530.06 103.89L534.78 105.05L539.50 106.23L544.21 107.43L548.92 108.65L553.62 109.89L558.31 111.16L563.00 112.45L567.68 113.77L572.36 115.11L577.02 116.48L581.68 117.88L586.33 119.31L590.97 120.77L595.60 122.26L600.22 123.78L604.83 125.34L609.43 126.93L614.02 128.55L618.60 130.21L623.16 131.90L627.71 133.64L632.25 135.40L636.76 137.21L641.26 139.06L645.75 140.94L650.21 142.87L654.65 144.83L659.08 146.84L663.49 148.87L667.88 150.94L672.26 153.04L676.63 155.17L680.99 157.33L685.33 159.50L689.66 161.70L693.99 163.92L698.31 166.16L702.62 168.41L706.92 170.67L711.22 172.95L715.51 175.24L719.79 177.55L724.07 179.88L728.34 182.22L732.59 184.58L736.84 186.96L741.08 189.35L745.31 191.76L749.53 194.19L753.74 196.63L757.94 199.09L762.13 201.57L766.30 204.07L770.47 206.59L774.62 209.13L778.76 211.68L782.89 214.26L787.00 216.86L791.11 219.47L795.19 222.11L799.27 224.77L803.33 227.45L807.37 230.15L811.40 232.87L815.41 235.61L819.41 238.37L823.39 241.16L827.36 243.97L831.31 246.80L835.24 249.66L839.16 252.54L843.05 255.44L846.93 258.37L850.79 261.32L854.63 264.30L858.46 267.30L862.26 270.32L866.04 273.37L869.81 276.45L873.55 279.55L877.27 282.68L880.97 285.83L884.65 289.02L888.31 292.22L891.95 295.46L895.56 298.72L899.15 302.01L902.72 305.33L906.26 308.68L909.77 312.06L913.25 315.47L916.71 318.91L920.12 322.38L923.51 325.89L926.85 329.43L930.16 333.00L933.42 336.61L936.65 340.26L939.83 343.94L942.96 347.66L946.05 351.42L949.08 355.22L952.07 359.05L955.01 362.92L957.92 366.82L960.78 370.75L963.61 374.71L966.41 378.69L969.17 382.70L971.91 386.72L974.62 390.76L977.29 394.83L979.93 398.92L982.52 403.04L985.06 407.18L987.55 411.36L989.97 415.57L992.34 419.81L994.63 424.09L996.86 428.41L999.01 432.76L1001.11 437.15L1003.16 441.56L1005.16 445.99L1007.13 450.44L1009.05 454.90L1010.93 459.39L1012.78 463.88L1014.59 468.40L1016.36 472.93L1018.09 477.47L1019.77 482.03L1021.41 486.61L1023.01 491.21L1024.55 495.82L1026.05 500.45L1027.50 505.09L1028.90 509.75L1030.25 514.42L1031.54 519.11L1032.79 523.81L1033.98 528.52L1035.11 533.25L1036.20 537.98L1037.23 542.73L1038.21 547.49L1039.14 552.27L1040.01 557.05L1040.83 561.84L1041.61 566.64L1042.33 571.45L1043.00 576.27L1043.61 581.10L1044.18 585.94L1044.68 590.78L1045.14 595.62L1045.53 600.47L1045.88 605.32L1046.16 610.17L1046.38 615.03L1046.55 619.89L1046.65 624.74L1046.69 629.60L1046.67 634.46L1046.58 639.32L1046.42 644.18L1046.20 649.04L1045.90 653.89L1045.54 658.75L1045.10 663.60"/>
<path d="M102.00 243.30L106.33 243.40L110.67 243.51L115.00 243.63L119.34 243.75L123.67 243.89L128.00 244.03L132.33 244.18L136.67 244.34L141.00 244.50L145.33 244.68L149.66 244.86L153.99 245.05L158.32 245.25L162.65 245.45L166.98 245.67L171.31 245.89L175.63 246.12L179.96 246.35L184.29 246.60L188.62 246.85L192.94 247.10L197.27 247.37L201.59 247.64L205.92 247.92L210.24 248.21L214.57 248.50L218.89 248.80L223.21 249.11L227.54 249.42L231.86 249.74L236.18 250.07L240.50 250.40L244.82 250.74L249.14 251.08L253.46 251.44L257.78 251.80L262.10 252.16L266.42 252.53L270.74 252.91L275.06 253.29L279.37 253.68L283.69 254.07L288.01 254.47L292.32 254.88L296.64 255.29L300.95 255.71L305.27 256.13L309.58 256.56L313.89 256.99L318.21 257.43L322.52 257.88L326.83 258.33L331.14 258.79L335.45 259.25L339.76 259.72L344.07 260.20L348.38 260.68L352.69 261.17L356.99 261.67L361.30 262.17L365.60 262.68L369.91 263.20L374.21 263.72L378.51 264.25L382.81 264.79L387.11 265.34L391.41 265.89L395.71 266.45L400.01 267.02L404.30 267.59L408.60 268.17L412.89 268.76L417.19 269.36L421.48 269.97L425.77 270.58L430.06 271.20L434.35 271.83L438.63 272.47L442.92 273.12L447.20 273.78L451.48 274.44L455.76 275.11L460.04 275.80L464.32 276.49L468.60 277.19L472.87 277.89L477.15 278.61L481.42 279.34L485.69 280.08L489.96 280.82L494.23 281.58L498.49 282.34L502.76 283.12L507.02 283.90L511.28 284.69L515.54 285.50L519.80 286.31L524.05 287.13L528.31 287.96L532.56 288.80L536.81 289.64L541.06 290.50L545.31 291.36L549.56 292.23L553.80 293.11L558.05 294.00L562.29 294.89L566.53 295.79L570.77 296.70L575.01 297.61L579.24 298.54L583.48 299.47L587.71 300.40L591.95 301.34L596.18 302.29L600.41 303.25L604.63 304.21L608.86 305.17L613.09 306.15L617.31 307.13L621.53 308.12L625.75 309.12L629.97 310.12L634.18 311.14L638.39 312.17L642.60 313.20L646.81 314.25L651.01 315.31L655.21 316.38L659.41 317.46L663.60 318.56L667.79 319.67L671.97 320.79L676.16 321.92L680.33 323.07L684.51 324.24L688.68 325.42L692.84 326.61L697.00 327.82L701.16 329.05L705.31 330.30L709.45 331.56L713.59 332.84L717.73 334.13L721.86 335.44L725.98 336.77L730.10 338.11L734.22 339.47L738.33 340.84L742.44 342.23L746.54 343.63L750.63 345.05L754.73 346.49L758.81 347.93L762.89 349.40L766.97 350.87L771.04 352.36L775.11 353.87L779.17 355.39L783.23 356.92L787.29 358.47L791.33 360.02L795.38 361.60L799.42 363.18L803.45 364.78L807.47 366.40L811.49 368.03L815.50 369.69L819.50 371.37L823.48 373.08L827.45 374.82L831.40 376.59L835.34 378.40L839.26 380.25L843.16 382.14L847.04 384.07L850.89 386.04L854.73 388.06L858.54 390.12L862.33 392.22L866.11 394.35L869.87 396.51L873.61 398.70L877.34 400.92L881.06 403.15L884.76 405.41L888.45 407.69L892.12 410.00L895.77 412.34L899.39 414.72L902.97 417.15L906.52 419.63L910.04 422.16L913.51 424.76L916.94 427.41L920.33 430.11L923.69 432.86L927.01 435.64L930.32 438.45L933.61 441.29L936.88 444.14L940.13 447.00L943.36 449.90L946.53 452.84L949.65 455.84L952.71 458.90L955.72 462.01L958.68 465.17L961.60 468.37L964.49 471.61L967.34 474.88L970.16 478.17L972.95 481.49L975.73 484.83L978.49 488.18L981.22 491.56L983.91 494.96L986.56 498.39L989.16 501.86L991.69 505.37L994.15 508.93L996.53 512.54L998.83 516.20L1001.05 519.91L1003.20 523.67L1005.29 527.47L1007.32 531.30L1009.30 535.16L1011.23 539.04L1013.13 542.94L1014.99 546.86L1016.82 550.80L1018.62 554.74L1020.37 558.71L1022.09 562.69L1023.75 566.69L1025.37 570.71L1026.93 574.76L1028.43 578.82L1029.87 582.90L1031.25 587.01L1032.57 591.14L1033.82 595.29L1035.00 599.46L1036.12 603.65L1037.17 607.85L1038.16 612.07L1039.08 616.31L1039.94 620.56L1040.73 624.83L1041.45 629.10L1042.11 633.39L1042.69 637.69L1043.21 641.99L1043.67 646.30L1044.05 650.62L1044.37 654.94L1044.62 659.27L1044.80 663.60"/>
<path d="M102.00 270.80L106.00 271.11L109.99 271.43L113.99 271.75L117.98 272.08L121.98 272.42L125.97 272.77L129.97 273.12L133.96 273.48L137.95 273.85L141.94 274.22L145.93 274.59L149.92 274.98L153.91 275.37L157.90 275.76L161.89 276.16L165.88 276.57L169.87 276.98L173.86 277.39L177.84 277.82L181.83 278.24L185.82 278.67L189.80 279.11L193.79 279.55L197.77 279.99L201.75 280.44L205.74 280.89L209.72 281.35L213.70 281.81L217.69 282.27L221.67 282.74L225.65 283.21L229.63 283.69L233.61 284.17L237.59 284.65L241.57 285.13L245.55 285.62L249.53 286.11L253.51 286.60L257.49 287.09L261.47 287.59L265.45 288.09L269.43 288.59L273.41 289.09L277.38 289.59L281.36 290.10L285.34 290.61L289.32 291.12L293.29 291.63L297.27 292.14L301.24 292.65L305.22 293.16L309.20 293.68L313.17 294.19L317.15 294.71L321.12 295.22L325.10 295.74L329.07 296.26L333.05 296.78L337.02 297.30L341.00 297.82L344.97 298.34L348.94 298.87L352.92 299.39L356.89 299.92L360.87 300.45L364.84 300.98L368.81 301.51L372.79 302.04L376.76 302.57L380.73 303.10L384.70 303.64L388.68 304.18L392.65 304.72L396.62 305.25L400.59 305.80L404.57 306.34L408.54 306.88L412.51 307.43L416.48 307.98L420.46 308.52L424.43 309.07L428.40 309.63L432.37 310.18L436.34 310.74L440.31 311.29L444.29 311.85L448.26 312.41L452.23 312.97L456.20 313.54L460.17 314.11L464.14 314.68L468.11 315.27L472.08 315.86L476.04 316.46L480.00 317.07L483.96 317.70L487.92 318.34L491.88 318.99L495.83 319.66L499.78 320.36L503.72 321.07L507.66 321.80L511.59 322.55L515.53 323.32L519.45 324.10L523.38 324.91L527.30 325.73L531.22 326.57L535.13 327.42L539.04 328.29L542.95 329.18L546.86 330.07L550.76 330.99L554.66 331.92L558.56 332.86L562.45 333.81L566.35 334.78L570.23 335.77L574.12 336.76L578.00 337.77L581.88 338.80L585.75 339.84L589.63 340.89L593.49 341.95L597.36 343.03L601.22 344.13L605.07 345.23L608.93 346.35L612.77 347.49L616.62 348.64L620.46 349.80L624.29 350.98L628.12 352.17L631.95 353.37L635.77 354.59L639.59 355.82L643.40 357.06L647.21 358.32L651.01 359.59L654.81 360.87L658.60 362.17L662.39 363.49L666.17 364.81L669.94 366.16L673.71 367.51L677.48 368.88L681.24 370.27L684.99 371.66L688.74 373.08L692.49 374.51L696.22 375.95L699.95 377.41L703.68 378.88L707.40 380.37L711.11 381.88L714.82 383.40L718.52 384.94L722.22 386.49L725.91 388.06L729.59 389.64L733.26 391.24L736.93 392.86L740.60 394.49L744.25 396.14L747.91 397.81L751.55 399.49L755.19 401.19L758.81 402.91L762.43 404.64L766.05 406.40L769.65 408.17L773.24 409.97L776.82 411.79L780.39 413.62L783.95 415.48L787.49 417.36L791.03 419.27L794.54 421.19L798.05 423.14L801.54 425.12L805.02 427.12L808.48 429.15L811.92 431.19L815.35 433.27L818.77 435.37L822.17 437.49L825.55 439.64L828.91 441.81L832.26 444.01L835.60 446.24L838.91 448.48L842.21 450.76L845.49 453.06L848.75 455.38L852.00 457.73L855.23 460.11L858.43 462.51L861.62 464.93L864.79 467.38L867.95 469.86L871.08 472.36L874.19 474.89L877.28 477.45L880.36 480.03L883.41 482.64L886.44 485.27L889.45 487.93L892.44 490.61L895.40 493.33L898.33 496.07L901.24 498.84L904.12 501.63L906.97 504.46L909.79 507.31L912.57 510.19L915.33 513.10L918.05 516.05L920.74 519.02L923.39 522.02L926.00 525.06L928.58 528.12L931.11 531.22L933.61 534.35L936.06 537.52L938.47 540.72L940.84 543.95L943.16 547.21L945.44 550.51L947.69 553.83L949.89 557.18L952.06 560.56L954.19 563.95L956.29 567.38L958.34 570.82L960.36 574.29L962.33 577.78L964.27 581.29L966.17 584.82L968.04 588.37L969.86 591.95L971.64 595.54L973.38 599.15L975.09 602.78L976.75 606.43L978.37 610.10L979.95 613.79L981.47 617.50L982.95 621.22L984.37 624.97L985.73 628.74L987.03 632.52L988.27 636.33L989.44 640.16L990.54 644.01L991.57 647.88L992.53 651.78L993.40 655.70L994.19 659.64L994.90 663.60"/>
<path d="M102.00 323.30L105.87 323.35L109.75 323.41L113.62 323.47L117.50 323.54L121.37 323.62L125.24 323.71L129.12 323.81L132.99 323.91L136.86 324.02L140.74 324.14L144.61 324.27L148.48 324.41L152.35 324.55L156.22 324.70L160.09 324.86L163.97 325.03L167.84 325.20L171.71 325.38L175.58 325.57L179.45 325.77L183.31 325.98L187.18 326.19L191.05 326.41L194.92 326.64L198.79 326.88L202.65 327.12L206.52 327.37L210.38 327.63L214.25 327.90L218.12 328.17L221.98 328.46L225.84 328.75L229.71 329.05L233.57 329.35L237.43 329.66L241.29 329.99L245.15 330.31L249.01 330.65L252.87 330.99L256.73 331.35L260.59 331.71L264.45 332.07L268.31 332.45L272.16 332.84L276.02 333.23L279.87 333.64L283.72 334.05L287.58 334.48L291.43 334.91L295.27 335.36L299.12 335.81L302.97 336.28L306.81 336.76L310.65 337.26L314.50 337.76L318.33 338.28L322.17 338.81L326.01 339.36L329.84 339.92L333.67 340.49L337.50 341.07L341.33 341.68L345.15 342.29L348.97 342.92L352.79 343.57L356.61 344.23L360.43 344.91L364.24 345.60L368.05 346.30L371.86 347.02L375.67 347.74L379.47 348.48L383.28 349.22L387.08 349.98L390.88 350.74L394.68 351.51L398.47 352.28L402.27 353.06L406.07 353.84L409.86 354.63L413.65 355.43L417.44 356.23L421.23 357.03L425.02 357.84L428.81 358.65L432.60 359.47L436.38 360.29L440.17 361.11L443.95 361.95L447.73 362.78L451.51 363.63L455.29 364.47L459.07 365.32L462.85 366.18L466.63 367.04L470.40 367.91L474.18 368.78L477.95 369.66L481.72 370.54L485.49 371.42L489.27 372.32L493.04 373.21L496.80 374.11L500.57 375.02L504.34 375.93L508.10 376.85L511.87 377.78L515.63 378.71L519.39 379.66L523.14 380.62L526.90 381.58L530.65 382.57L534.39 383.56L538.13 384.57L541.87 385.60L545.60 386.65L549.32 387.71L553.04 388.79L556.75 389.89L560.46 391.01L564.16 392.14L567.86 393.29L571.56 394.45L575.25 395.62L578.94 396.80L582.63 397.98L586.31 399.18L590.00 400.37L593.68 401.57L597.36 402.78L601.05 403.98L604.73 405.18L608.41 406.39L612.10 407.59L615.78 408.79L619.46 410.00L623.15 411.21L626.83 412.42L630.51 413.64L634.19 414.85L637.87 416.07L641.54 417.30L645.22 418.53L648.89 419.76L652.57 421.00L656.24 422.25L659.90 423.50L663.57 424.75L667.23 426.02L670.89 427.29L674.55 428.57L678.21 429.85L681.86 431.15L685.51 432.45L689.15 433.76L692.79 435.08L696.43 436.41L700.06 437.76L703.69 439.11L707.32 440.47L710.94 441.85L714.56 443.23L718.17 444.63L721.78 446.04L725.38 447.46L728.98 448.90L732.57 450.35L736.15 451.82L739.73 453.30L743.31 454.79L746.88 456.30L750.44 457.83L754.00 459.37L757.55 460.93L761.09 462.50L764.62 464.09L768.15 465.70L771.67 467.33L775.18 468.98L778.68 470.64L782.17 472.33L785.66 474.03L789.13 475.75L792.59 477.50L796.04 479.26L799.48 481.05L802.91 482.85L806.32 484.68L809.73 486.54L813.12 488.41L816.50 490.31L819.86 492.23L823.21 494.17L826.55 496.14L829.87 498.14L833.17 500.16L836.47 502.20L839.74 504.27L843.00 506.37L846.25 508.49L849.47 510.64L852.69 512.81L855.88 515.00L859.06 517.22L862.23 519.46L865.38 521.72L868.52 524.00L871.64 526.31L874.74 528.64L877.82 530.99L880.88 533.37L883.91 535.78L886.92 538.22L889.90 540.69L892.85 543.19L895.77 545.73L898.66 548.31L901.51 550.92L904.33 553.56L907.13 556.24L909.89 558.94L912.64 561.68L915.36 564.43L918.05 567.21L920.73 570.02L923.38 572.84L926.02 575.69L928.62 578.56L931.21 581.45L933.77 584.36L936.31 587.30L938.82 590.26L941.30 593.24L943.76 596.24L946.19 599.26L948.59 602.31L950.96 605.38L953.31 608.47L955.62 611.58L957.91 614.71L960.16 617.87L962.38 621.04L964.57 624.24L966.73 627.46L968.85 630.70L970.94 633.96L972.99 637.25L975.01 640.55L976.99 643.88L978.94 647.22L980.85 650.59L982.72 653.98L984.55 657.39L986.34 660.83L988.10 664.28L989.81 667.75L991.48 671.25L993.11 674.76L994.70 678.30"/>
<path d="M102.00 296.50L105.02 297.62L108.04 298.75L111.07 299.87L114.09 301.00L117.12 302.12L120.14 303.25L123.17 304.37L126.20 305.49L129.23 306.62L132.26 307.74L135.29 308.85L138.33 309.97L141.36 311.08L144.40 312.19L147.43 313.30L150.47 314.41L153.51 315.51L156.56 316.60L159.60 317.69L162.65 318.78L165.69 319.86L168.74 320.94L171.80 322.01L174.85 323.08L177.90 324.14L180.96 325.19L184.02 326.24L187.08 327.28L190.15 328.31L193.22 329.33L196.28 330.35L199.36 331.36L202.43 332.36L205.51 333.35L208.59 334.33L211.67 335.30L214.75 336.27L217.84 337.22L220.93 338.16L224.03 339.09L227.12 340.01L230.22 340.92L233.32 341.82L236.43 342.71L239.54 343.58L242.65 344.44L245.77 345.29L248.89 346.13L252.01 346.95L255.14 347.76L258.26 348.56L261.40 349.34L264.53 350.11L267.67 350.87L270.81 351.62L273.96 352.36L277.10 353.09L280.25 353.81L283.40 354.52L286.56 355.22L289.71 355.91L292.87 356.60L296.03 357.28L299.19 357.95L302.35 358.61L305.52 359.27L308.68 359.93L311.85 360.58L315.02 361.22L318.18 361.87L321.35 362.50L324.52 363.14L327.69 363.77L330.86 364.40L334.03 365.03L337.20 365.66L340.37 366.29L343.54 366.92L346.71 367.55L349.88 368.18L353.05 368.81L356.22 369.45L359.39 370.08L362.55 370.72L365.72 371.35L368.89 371.99L372.05 372.63L375.22 373.27L378.38 373.91L381.55 374.55L384.71 375.19L387.88 375.84L391.04 376.48L394.21 377.12L397.37 377.76L400.54 378.41L403.71 379.05L406.87 379.69L410.04 380.33L413.20 380.97L416.37 381.61L419.54 382.25L422.70 382.89L425.87 383.53L429.04 384.16L432.21 384.80L435.38 385.43L438.55 386.07L441.72 386.70L444.89 387.33L448.06 387.95L451.24 388.58L454.41 389.20L457.59 389.83L460.76 390.46L463.93 391.09L467.10 391.73L470.27 392.38L473.44 393.03L476.61 393.70L479.77 394.38L482.92 395.08L486.08 395.79L489.23 396.52L492.37 397.28L495.51 398.05L498.64 398.85L501.76 399.67L504.88 400.52L507.99 401.40L511.09 402.30L514.18 403.23L517.27 404.19L520.34 405.18L523.41 406.19L526.47 407.23L529.51 408.29L532.55 409.39L535.58 410.51L538.60 411.66L541.60 412.83L544.60 414.04L547.58 415.27L550.56 416.54L553.52 417.83L556.46 419.14L559.40 420.48L562.33 421.85L565.25 423.24L568.16 424.65L571.06 426.07L573.95 427.52L576.83 428.99L579.71 430.47L582.58 431.96L585.44 433.47L588.30 434.99L591.15 436.52L594.00 438.06L596.84 439.61L599.68 441.16L602.52 442.72L605.35 444.29L608.18 445.86L611.00 447.44L613.82 449.03L616.63 450.62L619.45 452.22L622.25 453.82L625.05 455.44L627.85 457.06L630.65 458.69L633.43 460.32L636.22 461.97L639.00 463.62L641.77 465.28L644.54 466.95L647.30 468.62L650.06 470.31L652.81 472.01L655.56 473.71L658.30 475.43L661.03 477.16L663.75 478.90L666.46 480.65L669.17 482.42L671.86 484.20L674.54 486.00L677.21 487.82L679.87 489.65L682.51 491.50L685.15 493.37L687.76 495.26L690.37 497.16L692.95 499.10L695.52 501.05L698.08 503.02L700.61 505.02L703.13 507.04L705.63 509.09L708.11 511.15L710.58 513.24L713.02 515.36L715.45 517.49L717.86 519.65L720.25 521.82L722.63 524.02L724.98 526.24L727.32 528.48L729.64 530.74L731.94 533.02L734.22 535.31L736.48 537.63L738.73 539.97L740.95 542.32L743.16 544.70L745.35 547.09L747.52 549.50L749.67 551.92L751.80 554.37L753.90 556.83L755.98 559.32L758.04 561.82L760.07 564.34L762.07 566.89L764.04 569.46L765.97 572.05L767.87 574.67L769.73 577.31L771.56 579.98L773.34 582.67L775.08 585.40L776.78 588.14L778.43 590.92L780.04 593.72L781.60 596.55L783.12 599.40L784.58 602.27L786.00 605.17L787.36 608.09L788.68 611.04L789.94 614.01L791.15 617.00L792.30 620.01L793.40 623.04L794.44 626.09L795.42 629.16L796.35 632.25L797.22 635.35L798.02 638.48L798.77 641.62L799.45 644.78L800.07 647.95L800.62 651.14L801.11 654.34L801.54 657.56L801.89 660.80L802.18 664.04L802.40 667.30"/>
<path d="M102.00 323.30L104.74 324.82L107.47 326.35L110.20 327.89L112.93 329.44L115.66 330.98L118.40 332.53L121.13 334.07L123.86 335.61L126.60 337.14L129.35 338.66L132.10 340.16L134.86 341.65L137.63 343.12L140.41 344.57L143.20 345.99L146.00 347.39L148.82 348.75L151.65 350.08L154.50 351.38L157.36 352.65L160.24 353.88L163.13 355.09L166.03 356.26L168.95 357.41L171.88 358.53L174.81 359.63L177.76 360.71L180.71 361.77L183.67 362.81L186.64 363.83L189.62 364.84L192.60 365.83L195.58 366.82L198.57 367.79L201.56 368.75L204.55 369.71L207.54 370.66L210.54 371.60L213.53 372.54L216.53 373.46L219.54 374.37L222.54 375.27L225.55 376.16L228.56 377.04L231.58 377.91L234.59 378.76L237.62 379.59L240.64 380.41L243.67 381.22L246.70 382.00L249.74 382.77L252.78 383.52L255.83 384.26L258.88 384.97L261.93 385.68L264.99 386.36L268.05 387.04L271.12 387.70L274.18 388.35L277.25 389.00L280.32 389.63L283.39 390.26L286.46 390.89L289.54 391.51L292.61 392.13L295.69 392.74L298.76 393.36L301.83 393.98L304.91 394.60L307.98 395.22L311.05 395.84L314.13 396.46L317.20 397.07L320.28 397.69L323.35 398.30L326.43 398.91L329.51 399.51L332.58 400.10L335.67 400.69L338.75 401.27L341.83 401.84L344.92 402.40L348.01 402.95L351.10 403.49L354.19 404.02L357.29 404.54L360.38 405.05L363.48 405.55L366.58 406.06L369.68 406.56L372.78 407.06L375.87 407.57L378.97 408.08L382.06 408.60L385.15 409.13L388.24 409.67L391.32 410.23L394.40 410.80L397.48 411.40L400.55 412.01L403.61 412.65L406.67 413.30L409.73 413.98L412.78 414.68L415.82 415.40L418.86 416.14L421.90 416.89L424.93 417.66L427.96 418.44L430.99 419.23L434.02 420.04L437.04 420.86L440.06 421.69L443.08 422.53L446.10 423.37L449.12 424.22L452.14 425.08L455.16 425.95L458.17 426.82L461.19 427.70L464.20 428.58L467.22 429.48L470.23 430.38L473.24 431.29L476.24 432.20L479.24 433.13L482.25 434.07L485.24 435.01L488.24 435.97L491.23 436.94L494.21 437.91L497.20 438.90L500.17 439.91L503.15 440.92L506.11 441.95L509.08 442.99L512.04 444.04L514.99 445.10L517.93 446.18L520.87 447.28L523.81 448.39L526.73 449.52L529.65 450.66L532.57 451.81L535.47 452.99L538.37 454.18L541.26 455.39L544.14 456.61L547.01 457.85L549.88 459.12L552.73 460.40L555.58 461.70L558.42 463.01L561.25 464.35L564.07 465.70L566.89 467.06L569.69 468.45L572.49 469.85L575.29 471.26L578.07 472.69L580.85 474.13L583.62 475.59L586.39 477.06L589.15 478.54L591.90 480.03L594.65 481.54L597.39 483.06L600.13 484.59L602.86 486.13L605.59 487.68L608.31 489.24L611.02 490.81L613.74 492.39L616.45 493.98L619.15 495.57L621.85 497.17L624.55 498.78L627.24 500.40L629.93 502.02L632.62 503.65L635.31 505.29L637.99 506.92L640.67 508.57L643.35 510.22L646.03 511.87L648.70 513.52L651.37 515.18L654.05 516.84L656.71 518.51L659.38 520.18L662.03 521.86L664.68 523.55L667.33 525.25L669.96 526.95L672.59 528.67L675.21 530.41L677.81 532.16L680.41 533.92L682.99 535.70L685.55 537.49L688.11 539.31L690.64 541.15L693.16 543.00L695.67 544.88L698.15 546.78L700.61 548.71L703.06 550.66L705.48 552.63L707.89 554.62L710.28 556.64L712.65 558.68L715.00 560.74L717.34 562.82L719.66 564.92L721.96 567.04L724.25 569.18L726.52 571.34L728.78 573.51L731.02 575.70L733.24 577.91L735.46 580.14L737.65 582.38L739.84 584.63L742.01 586.90L744.17 589.19L746.31 591.48L748.44 593.79L750.56 596.11L752.67 598.45L754.76 600.79L756.84 603.15L758.90 605.53L760.95 607.92L762.97 610.32L764.97 612.74L766.95 615.18L768.91 617.63L770.84 620.10L772.75 622.59L774.63 625.10L776.48 627.63L778.31 630.17L780.10 632.74L781.86 635.33L783.59 637.94L785.28 640.57L786.93 643.22L788.55 645.90L790.13 648.60L791.66 651.33L793.14 654.08L794.57 656.86L795.93 659.68L797.23 662.53L798.47 665.41L799.62 668.32L800.70 671.28L801.69 674.27L802.60 677.30"/>
<path d="M102.00 437.90L104.85 438.71L107.70 439.51L110.55 440.30L113.40 441.08L116.26 441.86L119.11 442.63L121.97 443.39L124.84 444.14L127.70 444.88L130.57 445.62L133.44 446.34L136.31 447.06L139.18 447.78L142.05 448.48L144.93 449.18L147.81 449.87L150.69 450.55L153.57 451.22L156.45 451.89L159.34 452.55L162.22 453.20L165.11 453.85L168.00 454.49L170.89 455.12L173.79 455.74L176.68 456.36L179.58 456.97L182.48 457.57L185.38 458.17L188.28 458.76L191.18 459.34L194.08 459.91L196.99 460.48L199.89 461.05L202.80 461.60L205.71 462.15L208.62 462.69L211.53 463.23L214.44 463.76L217.36 464.29L220.27 464.80L223.18 465.31L226.10 465.82L229.02 466.32L231.94 466.81L234.86 467.30L237.77 467.78L240.70 468.26L243.62 468.73L246.54 469.19L249.46 469.65L252.39 470.10L255.31 470.55L258.24 470.99L261.16 471.43L264.09 471.86L267.01 472.29L269.94 472.72L272.87 473.14L275.80 473.56L278.73 473.98L281.65 474.40L284.58 474.81L287.51 475.22L290.44 475.63L293.37 476.05L296.30 476.46L299.23 476.87L302.17 477.28L305.10 477.69L308.03 478.11L310.96 478.52L313.89 478.93L316.82 479.35L319.75 479.76L322.69 480.17L325.62 480.58L328.55 480.99L331.48 481.40L334.42 481.81L337.35 482.21L340.28 482.62L343.22 483.02L346.15 483.42L349.08 483.81L352.02 484.21L354.95 484.60L357.89 484.98L360.82 485.37L363.75 485.75L366.69 486.13L369.62 486.51L372.56 486.89L375.49 487.27L378.43 487.64L381.36 488.01L384.30 488.39L387.23 488.76L390.17 489.13L393.10 489.50L396.04 489.87L398.97 490.25L401.90 490.62L404.84 490.99L407.77 491.36L410.71 491.74L413.64 492.11L416.57 492.49L419.51 492.87L422.44 493.25L425.37 493.63L428.30 494.01L431.24 494.40L434.17 494.79L437.10 495.18L440.03 495.58L442.96 495.98L445.89 496.38L448.82 496.78L451.75 497.19L454.68 497.60L457.61 498.02L460.54 498.44L463.46 498.87L466.39 499.30L469.32 499.74L472.24 500.18L475.17 500.62L478.09 501.08L481.02 501.53L483.94 502.00L486.86 502.47L489.79 502.94L492.71 503.43L495.63 503.92L498.55 504.41L501.47 504.92L504.39 505.43L507.30 505.95L510.22 506.48L513.14 507.01L516.05 507.56L518.96 508.11L521.87 508.68L524.78 509.25L527.68 509.83L530.59 510.43L533.49 511.03L536.39 511.65L539.28 512.27L542.18 512.91L545.07 513.56L547.96 514.22L550.84 514.89L553.72 515.58L556.60 516.28L559.47 516.99L562.34 517.72L565.20 518.46L568.06 519.21L570.92 519.98L573.77 520.77L576.62 521.57L579.46 522.38L582.30 523.21L585.13 524.06L587.96 524.92L590.78 525.80L593.60 526.70L596.41 527.61L599.21 528.55L602.01 529.49L604.80 530.46L607.59 531.45L610.37 532.45L613.15 533.46L615.92 534.50L618.68 535.54L621.44 536.61L624.20 537.68L626.95 538.78L629.69 539.88L632.43 541.00L635.17 542.14L637.90 543.28L640.63 544.44L643.35 545.61L646.07 546.79L648.79 547.98L651.50 549.19L654.21 550.41L656.91 551.64L659.61 552.88L662.29 554.14L664.97 555.42L667.64 556.71L670.30 558.02L672.95 559.36L675.59 560.71L678.21 562.09L680.82 563.49L683.42 564.91L686.00 566.36L688.56 567.84L691.11 569.34L693.64 570.87L696.14 572.44L698.63 574.03L701.10 575.66L703.56 577.30L706.00 578.96L708.45 580.63L710.90 582.29L713.36 583.94L715.84 585.57L718.32 587.18L720.81 588.80L723.29 590.41L725.78 592.03L728.25 593.66L730.72 595.30L733.16 596.97L735.58 598.66L737.98 600.39L740.35 602.15L742.68 603.96L744.97 605.81L747.25 607.69L749.50 609.60L751.74 611.53L753.97 613.48L756.18 615.46L758.37 617.45L760.54 619.47L762.69 621.51L764.82 623.58L766.92 625.67L769.00 627.78L771.05 629.92L773.08 632.09L775.07 634.28L777.03 636.51L778.97 638.75L780.86 641.03L782.72 643.34L784.55 645.67L786.33 648.04L788.06 650.44L789.74 652.88L791.35 655.35L792.90 657.86L794.38 660.41L795.78 663.01L797.10 665.65L798.32 668.34L799.45 671.08L800.48 673.86L801.40 676.70L802.20 679.60"/>
<path d="M102.00 463.30L104.81 463.87L107.62 464.45L110.42 465.02L113.23 465.60L116.04 466.17L118.85 466.74L121.65 467.32L124.46 467.89L127.27 468.47L130.07 469.04L132.88 469.61L135.69 470.18L138.49 470.76L141.30 471.33L144.11 471.90L146.91 472.47L149.72 473.05L152.53 473.62L155.33 474.19L158.14 474.76L160.94 475.33L163.75 475.90L166.56 476.47L169.36 477.04L172.17 477.61L174.98 478.17L177.78 478.74L180.59 479.31L183.40 479.87L186.20 480.44L189.01 481.00L191.82 481.57L194.62 482.13L197.43 482.70L200.24 483.26L203.04 483.82L205.85 484.38L208.66 484.94L211.47 485.50L214.27 486.06L217.08 486.62L219.89 487.17L222.70 487.73L225.51 488.28L228.31 488.84L231.12 489.39L233.93 489.94L236.74 490.49L239.55 491.04L242.36 491.59L245.17 492.14L247.98 492.69L250.79 493.24L253.60 493.78L256.41 494.32L259.22 494.87L262.04 495.41L264.85 495.95L267.66 496.49L270.47 497.03L273.28 497.56L276.10 498.10L278.91 498.63L281.73 499.16L284.54 499.70L287.35 500.23L290.17 500.76L292.98 501.28L295.80 501.81L298.62 502.33L301.43 502.86L304.25 503.38L307.07 503.90L309.88 504.42L312.70 504.93L315.52 505.45L318.34 505.97L321.16 506.48L323.98 507.00L326.79 507.51L329.61 508.03L332.43 508.54L335.25 509.06L338.07 509.57L340.89 510.09L343.71 510.60L346.53 511.12L349.35 511.64L352.16 512.15L354.98 512.67L357.80 513.19L360.62 513.71L363.44 514.24L366.25 514.76L369.07 515.29L371.89 515.81L374.70 516.34L377.52 516.88L380.33 517.41L383.15 517.95L385.96 518.49L388.77 519.03L391.59 519.57L394.40 520.12L397.21 520.67L400.02 521.22L402.83 521.78L405.64 522.34L408.45 522.90L411.25 523.47L414.06 524.04L416.86 524.61L419.67 525.19L422.47 525.78L425.27 526.37L428.08 526.96L430.88 527.55L433.67 528.16L436.47 528.76L439.27 529.38L442.06 529.99L444.86 530.61L447.65 531.24L450.44 531.88L453.23 532.51L456.02 533.16L458.81 533.81L461.59 534.47L464.37 535.13L467.16 535.80L469.94 536.48L472.72 537.16L475.49 537.85L478.27 538.55L481.04 539.25L483.82 539.96L486.59 540.68L489.36 541.41L492.12 542.14L494.89 542.88L497.65 543.63L500.41 544.39L503.17 545.15L505.93 545.93L508.68 546.71L511.44 547.50L514.19 548.29L516.94 549.10L519.68 549.91L522.43 550.73L525.17 551.55L527.91 552.38L530.65 553.22L533.39 554.07L536.13 554.92L538.86 555.78L541.59 556.65L544.33 557.52L547.05 558.39L549.78 559.28L552.51 560.16L555.23 561.06L557.95 561.96L560.67 562.86L563.39 563.77L566.11 564.69L568.82 565.61L571.53 566.54L574.25 567.47L576.95 568.40L579.66 569.34L582.37 570.28L585.07 571.23L587.78 572.18L590.48 573.14L593.18 574.09L595.88 575.06L598.57 576.02L601.27 576.99L603.96 577.97L606.65 578.94L609.34 579.92L612.03 580.91L614.72 581.89L617.41 582.89L620.09 583.88L622.77 584.88L625.46 585.88L628.14 586.89L630.81 587.90L633.49 588.91L636.17 589.93L638.84 590.95L641.52 591.97L644.19 593.00L646.86 594.03L649.53 595.07L652.20 596.11L654.86 597.16L657.53 598.21L660.19 599.27L662.85 600.34L665.50 601.41L668.16 602.49L670.80 603.59L673.45 604.69L676.09 605.80L678.72 606.93L681.35 608.06L683.97 609.22L686.58 610.38L689.19 611.56L691.79 612.75L694.39 613.96L696.97 615.19L699.55 616.44L702.12 617.70L704.68 618.98L707.24 620.27L709.78 621.59L712.32 622.92L714.84 624.27L717.36 625.63L719.87 627.01L722.38 628.40L724.87 629.81L727.36 631.24L729.84 632.68L732.31 634.13L734.77 635.60L737.22 637.08L739.67 638.58L742.11 640.09L744.54 641.61L746.96 643.15L749.37 644.70L751.78 646.26L754.18 647.83L756.57 649.41L758.95 651.01L761.33 652.62L763.69 654.23L766.05 655.86L768.40 657.50L770.74 659.16L773.07 660.82L775.40 662.50L777.71 664.19L780.01 665.89L782.30 667.61L784.58 669.34L786.85 671.09L789.11 672.84L791.36 674.62L793.59 676.40L795.81 678.20L798.02 680.02L800.22 681.85L802.40 683.70"/>
</g>
<g font-family="&quot;Liberation Sans&quot;, sans-serif" font-size="14.2" fill="#fff" stroke="#fff" stroke-width="2.6" stroke-linejoin="round">
<text transform="translate(507.10 84.60) rotate(18.8)">100-145/3-75</text>
<text transform="translate(444.60 270.10) rotate(9.5)">100-100/2-55</text>
<text transform="translate(445.20 304.80) rotate(13.3)">100-90/2-45</text>
<text transform="translate(437.10 355.00) rotate(13.5)">100-75/2-37</text>
<text transform="translate(431.20 376.50) rotate(16.5)">100-66/3-30</text>
<text transform="translate(428.00 414.70) rotate(14.9)">100-55/3-25</text>
<text transform="translate(411.50 484.85) rotate(10.0)">100-44/2-18.5</text>
<text transform="translate(411.10 518.30) rotate(14.6)">100-33/2-15</text>
</g>
<g font-family="&quot;Liberation Sans&quot;, sans-serif" font-size="14.2" fill="#000" stroke="#000" stroke-width="0.95" stroke-linejoin="round">
<text transform="translate(507.10 84.60) rotate(18.8)">100-145/3-75</text>
<text transform="translate(444.60 270.10) rotate(9.5)">100-100/2-55</text>
<text transform="translate(445.20 304.80) rotate(13.3)">100-90/2-45</text>
<text transform="translate(437.10 355.00) rotate(13.5)">100-75/2-37</text>
<text transform="translate(431.20 376.50) rotate(16.5)">100-66/3-30</text>
<text transform="translate(428.00 414.70) rotate(14.9)">100-55/3-25</text>
<text transform="translate(411.50 484.85) rotate(10.0)">100-44/2-18.5</text>
<text transform="translate(411.10 518.30) rotate(14.6)">100-33/2-15</text>
</g>
<g fill="#000" shape-rendering="crispEdges">
<rect x="101" y="722" width="995" height="2"/>
</g>
<g fill="#000">
<rect x="100.7" y="722" width="2" height="13.5"/>
<rect x="200.1" y="722" width="2" height="13.5"/>
<rect x="299.5" y="722" width="2" height="13.5"/>
<rect x="398.9" y="722" width="2" height="13.5"/>
<rect x="498.3" y="722" width="2" height="13.5"/>
<rect x="597.7" y="722" width="2" height="13.5"/>
<rect x="697.1" y="722" width="2" height="13.5"/>
<rect x="796.5" y="722" width="2" height="13.5"/>
<rect x="895.9" y="722" width="2" height="13.5"/>
<rect x="995.3" y="722" width="2" height="13.5"/>
<rect x="1094.7" y="722" width="2" height="13.5"/>
</g>
<g font-family="&quot;Liberation Sans&quot;, sans-serif" font-size="16.4" font-weight="bold" fill="#000" text-anchor="middle">
<text x="103.0" y="751.8">0</text>
<text x="202.2" y="751.8">20</text>
<text x="300.2" y="751.8">40</text>
<text x="400.3" y="751.8">60</text>
<text x="499.9" y="751.8">80</text>
<text x="596.2" y="751.8">100</text>
<text x="697.9" y="751.8">120</text>
<text x="797.4" y="751.8">140</text>
<text x="896.8" y="751.8">160</text>
<text x="996.4" y="751.8">180</text>
<text x="1095.7" y="751.8">200</text>
</g>
<g font-family="&quot;Liberation Sans&quot;, sans-serif" font-size="16.4" font-weight="bold" fill="#000" text-anchor="end">
<text x="82.2" y="30.3">170</text>
<text x="82.2" y="70.3">160</text>
<text x="82.2" y="110.3">150</text>
<text x="82.2" y="150.3">140</text>
<text x="82.2" y="190.3">130</text>
<text x="82.2" y="230.3">120</text>
<text x="82.2" y="270.3">110</text>
<text x="82.2" y="310.3">100</text>
<text x="82.2" y="350.3">90</text>
<text x="82.2" y="390.3">80</text>
<text x="82.2" y="430.3">70</text>
<text x="82.2" y="470.3">60</text>
<text x="82.2" y="510.3">50</text>
<text x="82.2" y="550.3">40</text>
<text x="82.2" y="590.3">30</text>
<text x="82.2" y="630.3">20</text>
<text x="82.2" y="670.3">10</text>
<text x="82.2" y="710.3">0</text>
</g>
<text x="965.5" y="40.6" font-family="&quot;Liberation Sans&quot;, &quot;Noto Sans CJK SC&quot;, sans-serif" font-size="14.7" font-weight="bold" fill="#0f62a2">同步转速</text>
<text x="995.7" y="58" font-family="&quot;Liberation Sans&quot;, sans-serif" font-size="15" font-weight="bold" fill="#0f62a2" text-anchor="middle" textLength="62" lengthAdjust="spacingAndGlyphs">3000r/min</text>
<g font-family="&quot;Liberation Sans&quot;, &quot;Noto Sans CJK SC&quot;, sans-serif" fill="#000">
<text x="981.9 998.5" y="795" font-size="15.3" font-weight="bold">流量</text>
<text x="1012.9" y="794.6" font-size="15.3" font-weight="bold">（</text>
<text x="1030.3" y="795" font-size="15.5" font-weight="bold">m</text>
<text x="1044" y="790.2" font-size="11" font-weight="bold">3</text>
<text x="1049.5" y="795" font-size="15.5" font-weight="bold">/h</text>
<text x="1064.9" y="794.6" font-size="15.3" font-weight="bold">）</text>
</g>
<polygon points="1077.3,783.2 1088,789.8 1077.3,796.4" fill="#000"/>
<g transform="translate(42.3 118) rotate(-90)">
<g font-family="&quot;Liberation Sans&quot;, &quot;Noto Sans CJK SC&quot;, sans-serif" fill="#000" font-weight="bold">
<text x="-0.94 15.19" y="0.1" font-size="15.6">扬程</text>
<text x="29.8" y="-0.6" font-size="15.6">（</text>
<text x="47.2" y="0" font-size="16">m</text>
<text x="61.8" y="-0.6" font-size="15.6">）</text>
</g>
<polygon points="73.4,-12.3 84.4,-5.8 73.4,0.7" fill="#000"/>
</g>
</svg></body></html>
